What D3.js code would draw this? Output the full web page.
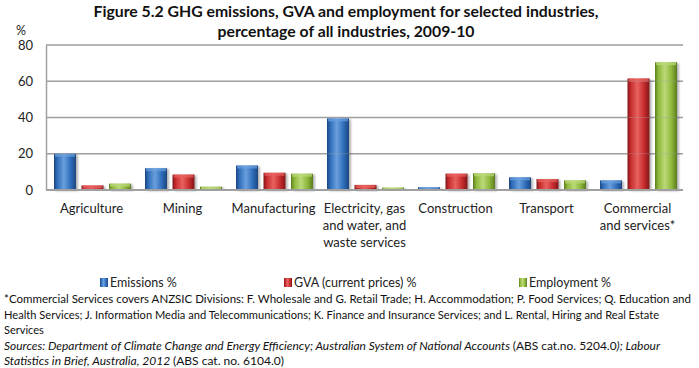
<!DOCTYPE html>
<html><head><meta charset="utf-8">
<script src="https://cdn.jsdelivr.net/npm/d3@7"></script>
<style>
body{margin:0;background:#fff;}
svg{display:block;font-family:Lato,"Open Sans",sans-serif;}
</style></head>
<body><svg id="chart" width="699" height="368"></svg>
<script>
const categories = ["Agriculture","Mining","Manufacturing","Electricity, gas|and water, and|waste services","Construction","Transport","Commercial|and services*"];
const seriesNames = ["Emissions %","GVA (current prices) %","Employment %"];
const emissions = [20,12,13.5,39.5,1.5,7,5.3];
const gva = [2.5,8.5,9.5,2.8,9,6,61.5];
const employment = [3.5,1.8,9,1.3,9.2,5.3,70.5];
const yTicks = [0,20,40,60,80];
const titleLines = ["Figure 5.2 GHG emissions, GVA and employment for selected industries,","percentage of all industries, 2009-10"];
const footLines = [
 "*Commercial Services covers ANZSIC Divisions: F. Wholesale and G. Retail Trade; H. Accommodation; P. Food Services; Q. Education and",
 "Health Services; J. Information Media and Telecommunications; K. Finance and Insurance Services; and L. Rental, Hiring and Real Estate",
 "Services"
];
const colors = [
 {base:"#2F6EBA",light:"#6A9FDE",dark:"#1C4680"},
 {base:"#C82C2E",light:"#E8625F",dark:"#80161A"},
 {base:"#8DB83B",light:"#BCD979",dark:"#5B7B20"}
];
const values = [emissions,gva,employment];

const svg = d3.select("#chart");
const defs = svg.append("defs");
colors.forEach((c,i)=>{
  const g = defs.append("linearGradient").attr("id","g"+i).attr("x1","0").attr("x2","1").attr("y1","0").attr("y2","0");
  [[0,c.dark],[0.15,c.base],[0.45,c.light],[0.75,c.base],[1,c.dark]].forEach(s=>g.append("stop").attr("offset",s[0]).attr("stop-color",s[1]));
});
const sh = defs.append("filter").attr("id","sh").attr("x","-20%").attr("y","-10%").attr("width","150%").attr("height","130%");
sh.append("feDropShadow").attr("dx",2).attr("dy",1).attr("stdDeviation",1.2).attr("flood-color","#000").attr("flood-opacity",0.3);

const pLeft=46,pRight=683,pTop=45,pBottom=190;
const y = d3.scaleLinear().domain([0,80]).range([pBottom,pTop]);
const x0 = d3.scaleBand().domain(categories).range([pLeft,pRight]).paddingInner(0).paddingOuter(0);
const x1 = d3.scaleBand().domain(seriesNames).range([8,x0.bandwidth()-6]).paddingInner(0.2).paddingOuter(0);

// title
const titleW=[505,257];
svg.append("g").selectAll("text").data(titleLines).join("text")
 .attr("x",346).attr("y",(d,i)=>17+i*20).attr("text-anchor","middle")
 .attr("font-weight","bold").attr("font-size",16).attr("fill","#111")
 .attr("textLength",(d,i)=>titleW[i]).attr("lengthAdjust","spacingAndGlyphs").text(d=>d);

svg.append("text").attr("x",16).attr("y",35).attr("font-size",12.5).attr("fill","#222").text("%");

// grid
svg.append("g").selectAll("line").data(yTicks.filter(t=>t>0)).join("line")
 .attr("x1",pLeft).attr("x2",pRight).attr("y1",d=>y(d)).attr("y2",d=>y(d))
 .attr("stroke","#a0a0a0").attr("stroke-width",1.5);

const yAxis = svg.append("g").attr("transform",`translate(${pLeft},0)`)
 .call(d3.axisLeft(y).tickValues(yTicks).tickSize(0).tickPadding(13));
yAxis.select(".domain").attr("stroke","#a0a0a0").attr("stroke-width",1.5);
yAxis.selectAll("text").attr("font-size",13).attr("fill","#222").attr("font-family","Lato,sans-serif");

// bars
const groups = svg.append("g").selectAll("g").data(categories).join("g")
 .attr("transform",d=>`translate(${x0(d)},0)`);
groups.selectAll("g.bar").data((d,ci)=>seriesNames.map((s,si)=>({s,si,v:values[si][ci]}))).join("g").attr("class","bar")
 .each(function(d){
   const g=d3.select(this);
   const bx=x1(d.s), bw=x1.bandwidth(), by=y(d.v), bh=pBottom-y(d.v);
   g.append("rect").attr("x",bx).attr("y",by).attr("width",bw).attr("height",bh)
    .attr("fill",`url(#g${d.si})`).attr("filter","url(#sh)");
   g.append("rect").attr("x",bx+1).attr("y",by).attr("width",bw-2).attr("height",Math.min(3,bh))
    .attr("fill",colors[d.si].light).attr("opacity",0.7);
 });

// faint gridlines seen through bars
svg.append("g").selectAll("line").data(yTicks.filter(t=>t>0)).join("line")
 .attr("x1",pLeft).attr("x2",pRight).attr("y1",d=>y(d)).attr("y2",d=>y(d))
 .attr("stroke","#a0a0a0").attr("stroke-width",1).attr("opacity",0.35);

// baseline
svg.append("line").attr("x1",pLeft).attr("x2",pRight).attr("y1",pBottom).attr("y2",pBottom)
 .attr("stroke","#a0a0a0").attr("stroke-width",2);

// x labels
const xl = svg.append("g").selectAll("text").data(categories).join("text")
 .attr("x",d=>x0(d)+x0.bandwidth()/2).attr("y",213).attr("text-anchor","middle")
 .attr("font-size",13).attr("fill","#222");
xl.selectAll("tspan").data(d=>d.split("|")).join("tspan")
 .attr("x",function(){return d3.select(this.parentNode).attr("x");})
 .attr("dy",(d,i)=>i===0?0:17).text(d=>d);

// legend
const legX=[100,284,519];
const leg = svg.append("g").selectAll("g").data(seriesNames).join("g")
 .attr("transform",(d,i)=>`translate(${legX[i]},277)`);
leg.append("rect").attr("width",8).attr("height",9).attr("y",1).attr("fill",(d,i)=>`url(#g${i})`);
leg.append("text").attr("x",10).attr("y",10).attr("font-size",12.5).attr("fill","#222").text(d=>d);

// footnote
const footW=[687,655,null];
svg.append("g").selectAll("text").data(footLines).join("text")
 .attr("x",4).attr("y",(d,i)=>303+i*15.5).attr("font-size",11).attr("fill","#111")
 .each(function(d,i){ if(footW[i]) d3.select(this).attr("textLength",footW[i]).attr("lengthAdjust","spacingAndGlyphs"); })
 .text(d=>d);

const s1 = svg.append("text").attr("x",4).attr("y",350).attr("font-size",11).attr("fill","#111")
 .attr("textLength",656).attr("lengthAdjust","spacingAndGlyphs");
s1.append("tspan").attr("font-style","italic").text("Sources: Department of Climate Change and Energy Efficiency; Australian System of National Accounts ");
s1.append("tspan").text("(ABS cat.no. 5204.0");
s1.append("tspan").attr("font-style","italic").text("); Labour");
const s2 = svg.append("text").attr("x",4).attr("y",365).attr("font-size",11).attr("fill","#111")
 .attr("textLength",280).attr("lengthAdjust","spacingAndGlyphs");
s2.append("tspan").attr("font-style","italic").text("Statistics in Brief, Australia, 2012 ");
s2.append("tspan").text("(ABS cat. no. 6104.0)");
</script></body></html>
